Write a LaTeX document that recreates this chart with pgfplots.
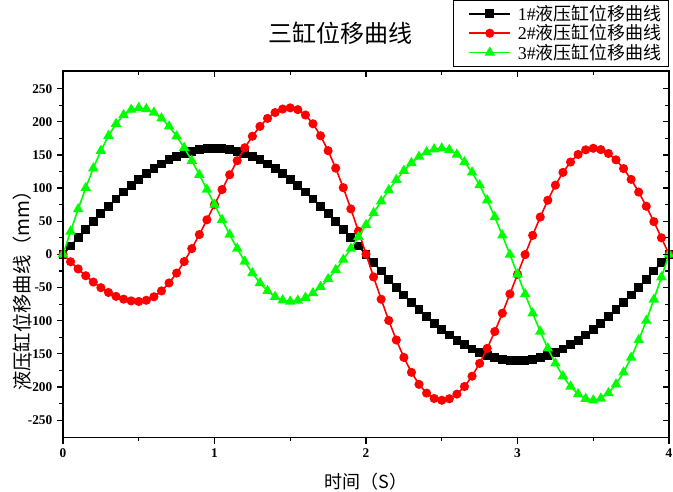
\documentclass[border=0pt]{standalone}
\usepackage{fontspec}
\setmainfont{Liberation Serif}
\newfontfamily\cjk{Noto Sans CJK SC}
\usepackage{pgfplots}
\pgfplotsset{compat=1.18}
\usepackage{pgfplotstable}

% displacement of the three cylinders, t in s, values in mm
\pgfplotstableread{
t b r g
0 0 0 0
0.05 12.6 -11.1 34.6
0.1 25.0 -21.9 68.3
0.15 37.4 -32.2 100.3
0.2 49.4 -41.7 129.9
0.25 61.2 -50.2 156.3
0.3 72.6 -57.4 178.8
0.35 83.6 -63.3 196.9
0.4 94.0 -67.5 210.2
0.45 103.9 -70.1 218.3
0.5 113.1 -71 221
0.55 121.7 -69.2 219.2
0.6 129.4 -63.9 213.9
0.65 136.4 -55.1 205.1
0.7 142.6 -43.1 193.1
0.75 147.8 -28.2 178.2
0.8 152.2 -10.8 160.8
0.85 155.6 8.7 141.3
0.9 158.0 29.9 120.1
0.95 159.5 52.2 97.8
1 160 75 75
1.05 159.5 97.8 52.2
1.1 158.0 120.1 29.9
1.15 155.6 141.3 8.7
1.2 152.2 160.8 -10.8
1.25 147.8 178.2 -28.2
1.3 142.6 193.1 -43.1
1.35 136.4 205.1 -55.1
1.4 129.4 213.9 -63.9
1.45 121.7 219.2 -69.2
1.5 113.1 221 -71
1.55 103.9 218.3 -69.6
1.6 94.0 210.2 -65.3
1.65 83.6 197.0 -58.4
1.7 72.6 178.9 -48.9
1.75 61.2 156.4 -37.2
1.8 49.4 130.1 -23.4
1.85 37.4 100.6 -7.9
1.9 25.0 68.6 8.8
1.95 12.6 35.0 26.4
2 0 0.5 44.5
2.05 -12.6 -34.0 62.6
2.1 -25.0 -67.6 80.2
2.15 -37.4 -99.6 96.9
2.2 -49.4 -129.1 112.4
2.25 -61.2 -155.4 126.2
2.3 -72.6 -177.9 137.9
2.35 -83.6 -196.0 147.4
2.4 -94.0 -209.2 154.3
2.45 -103.9 -217.3 158.6
2.5 -113.1 -220 160
2.55 -121.7 -217.7 157.7
2.6 -129.4 -210.7 150.7
2.65 -136.4 -199.3 139.3
2.7 -142.6 -183.7 123.7
2.75 -147.8 -164.4 104.4
2.8 -152.2 -141.7 81.7
2.85 -155.6 -116.3 56.3
2.9 -158.0 -88.7 28.7
2.95 -159.5 -59.7 -0.3
3 -160 -30 -30
3.05 -159.5 -0.3 -59.7
3.1 -158.0 28.7 -88.7
3.15 -155.6 56.3 -116.3
3.2 -152.2 81.7 -141.7
3.25 -147.8 104.4 -164.4
3.3 -142.6 123.7 -183.7
3.35 -136.4 139.3 -199.3
3.4 -129.4 150.7 -210.7
3.45 -121.7 157.7 -217.7
3.5 -113.1 160 -220
3.55 -103.9 158.0 -217.3
3.6 -94.0 152.2 -209.2
3.65 -83.6 142.6 -196.0
3.7 -72.6 129.4 -178.0
3.75 -61.2 113.1 -155.6
3.8 -49.4 94.0 -129.3
3.85 -37.4 72.6 -99.9
3.9 -25.0 49.4 -68.0
3.95 -12.6 25.0 -34.4
4 0 0 0
}\cyl

\pgfplotsset{
  frame/.style={
    at={(0pt,0pt)}, anchor=south west, scale only axis,
    width=454.5pt, height=275pt,
    xmin=0, xmax=4, ymin=-276.5, ymax=276.5,
    xtick={0,1,2,3,4}, ytick={-250,-200,...,250},
    minor x tick num=1, minor y tick num=1,
    major tick length=4.5pt, minor tick length=2.8pt,
    axis line style={line width=1.1pt},
    every tick/.append style={black, line width=0.9pt},
  },
}

\begin{document}
\begin{tikzpicture}
\useasboundingbox (-47.25pt,-40pt) rectangle (457.5pt,328.3pt);
\begin{axis}[
    frame, clip mode=individual,
    xtick pos=left, ytick pos=left, tick align=outside,
    tick label style={font=\fontsize{10}{11}\selectfont\bfseries},
    /pgf/number format/assume math mode=true,
    xlabel={\cjk 时间（S）},
    ylabel={\cjk 液压缸位移曲线（mm）},
    xlabel style={at={(axis description cs:0.5,-0.1208)}, anchor=center,
                  font=\fontsize{13.5}{15}\selectfont},
    ylabel style={at={(axis description cs:-0.0677,0.4137)}, anchor=center,
                  font=\fontsize{14.5}{16}\selectfont},
    legend style={at={(axis description cs:1,1.1936)}, anchor=north east,
                  draw=black, line width=0.6pt, fill=white,
                  font=\fontsize{13.5}{15}\selectfont, row sep=-2.5pt,
                  inner xsep=3pt, inner ysep=1.5pt},
    legend cell align=left,
    /tikz/every odd column/.append style={column sep=2pt},
    legend image code/.code={
      \path (0pt,0pt) (40pt,0pt);
      \draw[mark repeat=2,mark phase=2] plot coordinates {(8pt,0pt) (23.5pt,0pt) (39pt,0pt)};},
  ]
\addplot[black, line width=1.2pt, mark=square*, mark size=2.7pt] table[x=t,y=b]{\cyl};
\addlegendentry{1\#{\cjk 液压缸位移曲线}}
\addplot[red, line width=1.2pt, mark=*, mark size=2.8pt] table[x=t,y=r]{\cyl};
\addlegendentry{2\#{\cjk 液压缸位移曲线}}
\addplot[green, line width=1.2pt, mark=triangle*, mark size=3.4pt] table[x=t,y=g]{\cyl};
\addlegendentry{3\#{\cjk 液压缸位移曲线}}
\node[font=\cjk\fontsize{18}{20}\selectfont] at (axis description cs:0.4587,1.1036) {三缸位移曲线};
\end{axis}
% inward ticks on the top and right edges
\begin{axis}[
    frame,
    xtick pos=right, ytick pos=right, tick align=inside,
    xticklabels={}, yticklabels={},
  ]
\end{axis}
\end{tikzpicture}
\end{document}
